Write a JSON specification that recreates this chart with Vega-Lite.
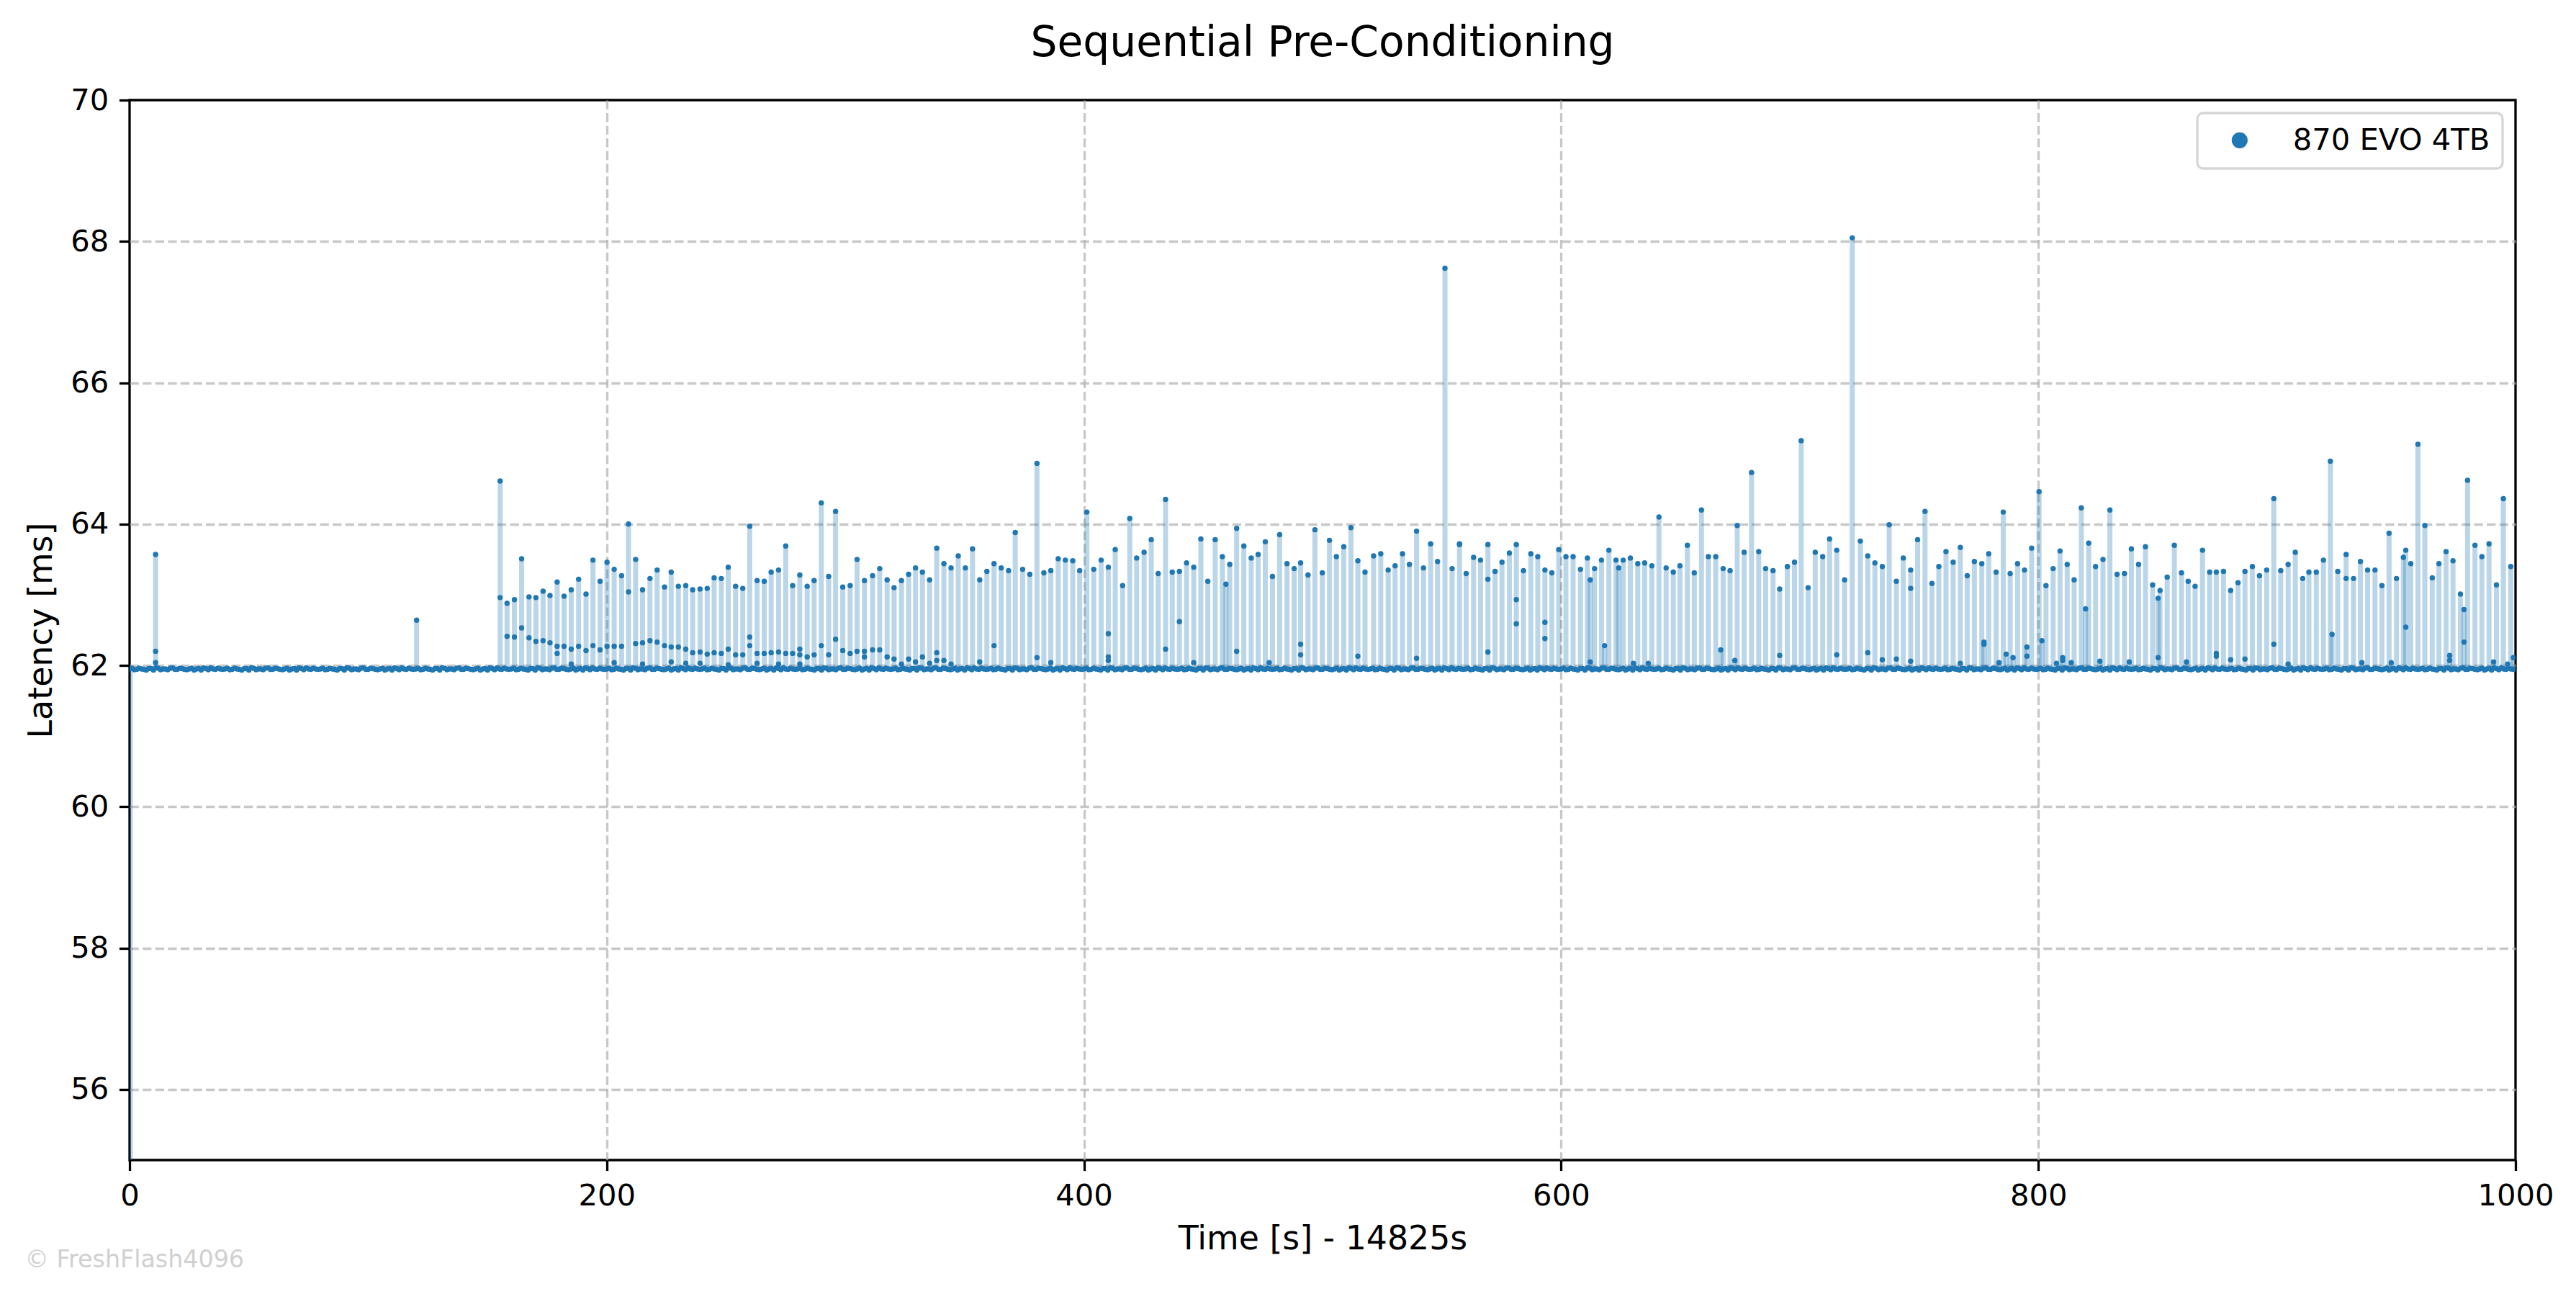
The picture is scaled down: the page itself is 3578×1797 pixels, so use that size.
{
  "$schema": "https://vega.github.io/schema/vega-lite/v6.json",
  "width": 3314,
  "height": 1472,
  "autosize": {"type": "none"},
  "padding": {"left": 180, "top": 139, "right": 84, "bottom": 186},
  "background": "white",
  "title": {"text": "Sequential Pre-Conditioning", "font": "DejaVu Sans", "fontSize": 58.3, "fontWeight": "normal", "color": "black", "anchor": "middle", "frame": "group", "baseline": "alphabetic", "offset": -17},
  "config": {
    "font": "DejaVu Sans",
    "view": {"stroke": "black", "strokeWidth": 3.3},
    "axis": {
      "domain": false,
      "gridColor": "#b0b0b0", "gridDash": [12.3, 5.3], "gridWidth": 3.3,
      "tickColor": "black", "tickWidth": 3.3, "tickSize": 14.6,
      "labelFont": "DejaVu Sans", "labelFontSize": 41.7, "labelColor": "black", "labelPadding": 14.6,
      "labelFlush": false, "labelOverlap": false,
      "titleFont": "DejaVu Sans", "titleFontSize": 45.8, "titleFontWeight": "normal", "titleColor": "black", "titlePadding": 16.7
    },
    "legend": {"strokeColor": "#d6d6d6", "strokeWidth": 3.3, "cornerRadius": 8, "fillColor": "white"}
  },
  "data": {"values": [
    {"t":0,"y":61.95},{"t":2,"y":61.94},{"t":4,"y":61.96},{"t":6,"y":61.945},{"t":8,"y":61.955},{"t":10,"y":61.935},{"t":12,"y":61.96},{"t":14,"y":61.95},{"t":16,"y":61.94},{"t":18,"y":61.965},
    {"t":20,"y":61.945},{"t":22,"y":61.955},{"t":24,"y":61.94},{"t":26,"y":61.96},{"t":28,"y":61.95},{"t":30,"y":61.935},{"t":32,"y":61.955},{"t":34,"y":61.965},{"t":36,"y":61.945},{"t":38,"y":61.95},
    {"t":40,"y":61.95},{"t":42,"y":61.94},{"t":44,"y":61.96},{"t":46,"y":61.945},{"t":48,"y":61.955},{"t":50,"y":61.935},{"t":52,"y":61.96},{"t":54,"y":61.95},{"t":56,"y":61.94},{"t":58,"y":61.965},
    {"t":60,"y":61.945},{"t":62,"y":61.955},{"t":64,"y":61.94},{"t":66,"y":61.96},{"t":68,"y":61.95},{"t":70,"y":61.935},{"t":72,"y":61.955},{"t":74,"y":61.965},{"t":76,"y":61.945},{"t":78,"y":61.95},
    {"t":80,"y":61.95},{"t":82,"y":61.94},{"t":84,"y":61.96},{"t":86,"y":61.945},{"t":88,"y":61.955},{"t":90,"y":61.935},{"t":92,"y":61.96},{"t":94,"y":61.95},{"t":96,"y":61.94},{"t":98,"y":61.965},
    {"t":100,"y":61.945},{"t":102,"y":61.955},{"t":104,"y":61.94},{"t":106,"y":61.96},{"t":108,"y":61.95},{"t":110,"y":61.935},{"t":112,"y":61.955},{"t":114,"y":61.965},{"t":116,"y":61.945},{"t":118,"y":61.95},
    {"t":120,"y":61.95},{"t":122,"y":61.94},{"t":124,"y":61.96},{"t":126,"y":61.945},{"t":128,"y":61.955},{"t":130,"y":61.935},{"t":132,"y":61.96},{"t":134,"y":61.95},{"t":136,"y":61.94},{"t":138,"y":61.965},
    {"t":140,"y":61.945},{"t":142,"y":61.955},{"t":144,"y":61.94},{"t":146,"y":61.96},{"t":148,"y":61.95},{"t":150,"y":61.935},{"t":152,"y":61.955},{"t":154,"y":61.965},{"t":156,"y":61.945},{"t":158,"y":61.95},
    {"t":160,"y":61.95},{"t":162,"y":61.94},{"t":164,"y":61.96},{"t":166,"y":61.945},{"t":168,"y":61.955},{"t":170,"y":61.935},{"t":172,"y":61.96},{"t":174,"y":61.95},{"t":176,"y":61.94},{"t":178,"y":61.965},
    {"t":180,"y":61.945},{"t":182,"y":61.955},{"t":184,"y":61.94},{"t":186,"y":61.96},{"t":188,"y":61.95},{"t":190,"y":61.935},{"t":192,"y":61.955},{"t":194,"y":61.965},{"t":196,"y":61.945},{"t":198,"y":61.95},
    {"t":200,"y":61.95},{"t":202,"y":61.94},{"t":204,"y":61.96},{"t":206,"y":61.945},{"t":208,"y":61.955},{"t":210,"y":61.935},{"t":212,"y":61.96},{"t":214,"y":61.95},{"t":216,"y":61.94},{"t":218,"y":61.965},
    {"t":220,"y":61.945},{"t":222,"y":61.955},{"t":224,"y":61.94},{"t":226,"y":61.96},{"t":228,"y":61.95},{"t":230,"y":61.935},{"t":232,"y":61.955},{"t":234,"y":61.965},{"t":236,"y":61.945},{"t":238,"y":61.95},
    {"t":240,"y":61.95},{"t":242,"y":61.94},{"t":244,"y":61.96},{"t":246,"y":61.945},{"t":248,"y":61.955},{"t":250,"y":61.935},{"t":252,"y":61.96},{"t":254,"y":61.95},{"t":256,"y":61.94},{"t":258,"y":61.965},
    {"t":260,"y":61.945},{"t":262,"y":61.955},{"t":264,"y":61.94},{"t":266,"y":61.96},{"t":268,"y":61.95},{"t":270,"y":61.935},{"t":272,"y":61.955},{"t":274,"y":61.965},{"t":276,"y":61.945},{"t":278,"y":61.95},
    {"t":280,"y":61.95},{"t":282,"y":61.94},{"t":284,"y":61.96},{"t":286,"y":61.945},{"t":288,"y":61.955},{"t":290,"y":61.935},{"t":292,"y":61.96},{"t":294,"y":61.95},{"t":296,"y":61.94},{"t":298,"y":61.965},
    {"t":300,"y":61.945},{"t":302,"y":61.955},{"t":304,"y":61.94},{"t":306,"y":61.96},{"t":308,"y":61.95},{"t":310,"y":61.935},{"t":312,"y":61.955},{"t":314,"y":61.965},{"t":316,"y":61.945},{"t":318,"y":61.95},
    {"t":320,"y":61.95},{"t":322,"y":61.94},{"t":324,"y":61.96},{"t":326,"y":61.945},{"t":328,"y":61.955},{"t":330,"y":61.935},{"t":332,"y":61.96},{"t":334,"y":61.95},{"t":336,"y":61.94},{"t":338,"y":61.965},
    {"t":340,"y":61.945},{"t":342,"y":61.955},{"t":344,"y":61.94},{"t":346,"y":61.96},{"t":348,"y":61.95},{"t":350,"y":61.935},{"t":352,"y":61.955},{"t":354,"y":61.965},{"t":356,"y":61.945},{"t":358,"y":61.95},
    {"t":360,"y":61.95},{"t":362,"y":61.94},{"t":364,"y":61.96},{"t":366,"y":61.945},{"t":368,"y":61.955},{"t":370,"y":61.935},{"t":372,"y":61.96},{"t":374,"y":61.95},{"t":376,"y":61.94},{"t":378,"y":61.965},
    {"t":380,"y":61.945},{"t":382,"y":61.955},{"t":384,"y":61.94},{"t":386,"y":61.96},{"t":388,"y":61.95},{"t":390,"y":61.935},{"t":392,"y":61.955},{"t":394,"y":61.965},{"t":396,"y":61.945},{"t":398,"y":61.95},
    {"t":400,"y":61.95},{"t":402,"y":61.94},{"t":404,"y":61.96},{"t":406,"y":61.945},{"t":408,"y":61.955},{"t":410,"y":61.935},{"t":412,"y":61.96},{"t":414,"y":61.95},{"t":416,"y":61.94},{"t":418,"y":61.965},
    {"t":420,"y":61.945},{"t":422,"y":61.955},{"t":424,"y":61.94},{"t":426,"y":61.96},{"t":428,"y":61.95},{"t":430,"y":61.935},{"t":432,"y":61.955},{"t":434,"y":61.965},{"t":436,"y":61.945},{"t":438,"y":61.95},
    {"t":440,"y":61.95},{"t":442,"y":61.94},{"t":444,"y":61.96},{"t":446,"y":61.945},{"t":448,"y":61.955},{"t":450,"y":61.935},{"t":452,"y":61.96},{"t":454,"y":61.95},{"t":456,"y":61.94},{"t":458,"y":61.965},
    {"t":460,"y":61.945},{"t":462,"y":61.955},{"t":464,"y":61.94},{"t":466,"y":61.96},{"t":468,"y":61.95},{"t":470,"y":61.935},{"t":472,"y":61.955},{"t":474,"y":61.965},{"t":476,"y":61.945},{"t":478,"y":61.95},
    {"t":480,"y":61.95},{"t":482,"y":61.94},{"t":484,"y":61.96},{"t":486,"y":61.945},{"t":488,"y":61.955},{"t":490,"y":61.935},{"t":492,"y":61.96},{"t":494,"y":61.95},{"t":496,"y":61.94},{"t":498,"y":61.965},
    {"t":500,"y":61.945},{"t":502,"y":61.955},{"t":504,"y":61.94},{"t":506,"y":61.96},{"t":508,"y":61.95},{"t":510,"y":61.935},{"t":512,"y":61.955},{"t":514,"y":61.965},{"t":516,"y":61.945},{"t":518,"y":61.95},
    {"t":520,"y":61.95},{"t":522,"y":61.94},{"t":524,"y":61.96},{"t":526,"y":61.945},{"t":528,"y":61.955},{"t":530,"y":61.935},{"t":532,"y":61.96},{"t":534,"y":61.95},{"t":536,"y":61.94},{"t":538,"y":61.965},
    {"t":540,"y":61.945},{"t":542,"y":61.955},{"t":544,"y":61.94},{"t":546,"y":61.96},{"t":548,"y":61.95},{"t":550,"y":61.935},{"t":552,"y":61.955},{"t":554,"y":61.965},{"t":556,"y":61.945},{"t":558,"y":61.95},
    {"t":560,"y":61.95},{"t":562,"y":61.94},{"t":564,"y":61.96},{"t":566,"y":61.945},{"t":568,"y":61.955},{"t":570,"y":61.935},{"t":572,"y":61.96},{"t":574,"y":61.95},{"t":576,"y":61.94},{"t":578,"y":61.965},
    {"t":580,"y":61.945},{"t":582,"y":61.955},{"t":584,"y":61.94},{"t":586,"y":61.96},{"t":588,"y":61.95},{"t":590,"y":61.935},{"t":592,"y":61.955},{"t":594,"y":61.965},{"t":596,"y":61.945},{"t":598,"y":61.95},
    {"t":600,"y":61.95},{"t":602,"y":61.94},{"t":604,"y":61.96},{"t":606,"y":61.945},{"t":608,"y":61.955},{"t":610,"y":61.935},{"t":612,"y":61.96},{"t":614,"y":61.95},{"t":616,"y":61.94},{"t":618,"y":61.965},
    {"t":620,"y":61.945},{"t":622,"y":61.955},{"t":624,"y":61.94},{"t":626,"y":61.96},{"t":628,"y":61.95},{"t":630,"y":61.935},{"t":632,"y":61.955},{"t":634,"y":61.965},{"t":636,"y":61.945},{"t":638,"y":61.95},
    {"t":640,"y":61.95},{"t":642,"y":61.94},{"t":644,"y":61.96},{"t":646,"y":61.945},{"t":648,"y":61.955},{"t":650,"y":61.935},{"t":652,"y":61.96},{"t":654,"y":61.95},{"t":656,"y":61.94},{"t":658,"y":61.965},
    {"t":660,"y":61.945},{"t":662,"y":61.955},{"t":664,"y":61.94},{"t":666,"y":61.96},{"t":668,"y":61.95},{"t":670,"y":61.935},{"t":672,"y":61.955},{"t":674,"y":61.965},{"t":676,"y":61.945},{"t":678,"y":61.95},
    {"t":680,"y":61.95},{"t":682,"y":61.94},{"t":684,"y":61.96},{"t":686,"y":61.945},{"t":688,"y":61.955},{"t":690,"y":61.935},{"t":692,"y":61.96},{"t":694,"y":61.95},{"t":696,"y":61.94},{"t":698,"y":61.965},
    {"t":700,"y":61.945},{"t":702,"y":61.955},{"t":704,"y":61.94},{"t":706,"y":61.96},{"t":708,"y":61.95},{"t":710,"y":61.935},{"t":712,"y":61.955},{"t":714,"y":61.965},{"t":716,"y":61.945},{"t":718,"y":61.95},
    {"t":720,"y":61.95},{"t":722,"y":61.94},{"t":724,"y":61.96},{"t":726,"y":61.945},{"t":728,"y":61.955},{"t":730,"y":61.935},{"t":732,"y":61.96},{"t":734,"y":61.95},{"t":736,"y":61.94},{"t":738,"y":61.965},
    {"t":740,"y":61.945},{"t":742,"y":61.955},{"t":744,"y":61.94},{"t":746,"y":61.96},{"t":748,"y":61.95},{"t":750,"y":61.935},{"t":752,"y":61.955},{"t":754,"y":61.965},{"t":756,"y":61.945},{"t":758,"y":61.95},
    {"t":760,"y":61.95},{"t":762,"y":61.94},{"t":764,"y":61.96},{"t":766,"y":61.945},{"t":768,"y":61.955},{"t":770,"y":61.935},{"t":772,"y":61.96},{"t":774,"y":61.95},{"t":776,"y":61.94},{"t":778,"y":61.965},
    {"t":780,"y":61.945},{"t":782,"y":61.955},{"t":784,"y":61.94},{"t":786,"y":61.96},{"t":788,"y":61.95},{"t":790,"y":61.935},{"t":792,"y":61.955},{"t":794,"y":61.965},{"t":796,"y":61.945},{"t":798,"y":61.95},
    {"t":800,"y":61.95},{"t":802,"y":61.94},{"t":804,"y":61.96},{"t":806,"y":61.945},{"t":808,"y":61.955},{"t":810,"y":61.935},{"t":812,"y":61.96},{"t":814,"y":61.95},{"t":816,"y":61.94},{"t":818,"y":61.965},
    {"t":820,"y":61.945},{"t":822,"y":61.955},{"t":824,"y":61.94},{"t":826,"y":61.96},{"t":828,"y":61.95},{"t":830,"y":61.935},{"t":832,"y":61.955},{"t":834,"y":61.965},{"t":836,"y":61.945},{"t":838,"y":61.95},
    {"t":840,"y":61.95},{"t":842,"y":61.94},{"t":844,"y":61.96},{"t":846,"y":61.945},{"t":848,"y":61.955},{"t":850,"y":61.935},{"t":852,"y":61.96},{"t":854,"y":61.95},{"t":856,"y":61.94},{"t":858,"y":61.965},
    {"t":860,"y":61.945},{"t":862,"y":61.955},{"t":864,"y":61.94},{"t":866,"y":61.96},{"t":868,"y":61.95},{"t":870,"y":61.935},{"t":872,"y":61.955},{"t":874,"y":61.965},{"t":876,"y":61.945},{"t":878,"y":61.95},
    {"t":880,"y":61.95},{"t":882,"y":61.94},{"t":884,"y":61.96},{"t":886,"y":61.945},{"t":888,"y":61.955},{"t":890,"y":61.935},{"t":892,"y":61.96},{"t":894,"y":61.95},{"t":896,"y":61.94},{"t":898,"y":61.965},
    {"t":900,"y":61.945},{"t":902,"y":61.955},{"t":904,"y":61.94},{"t":906,"y":61.96},{"t":908,"y":61.95},{"t":910,"y":61.935},{"t":912,"y":61.955},{"t":914,"y":61.965},{"t":916,"y":61.945},{"t":918,"y":61.95},
    {"t":920,"y":61.95},{"t":922,"y":61.94},{"t":924,"y":61.96},{"t":926,"y":61.945},{"t":928,"y":61.955},{"t":930,"y":61.935},{"t":932,"y":61.96},{"t":934,"y":61.95},{"t":936,"y":61.94},{"t":938,"y":61.965},
    {"t":940,"y":61.945},{"t":942,"y":61.955},{"t":944,"y":61.94},{"t":946,"y":61.96},{"t":948,"y":61.95},{"t":950,"y":61.935},{"t":952,"y":61.955},{"t":954,"y":61.965},{"t":956,"y":61.945},{"t":958,"y":61.95},
    {"t":960,"y":61.95},{"t":962,"y":61.94},{"t":964,"y":61.96},{"t":966,"y":61.945},{"t":968,"y":61.955},{"t":970,"y":61.935},{"t":972,"y":61.96},{"t":974,"y":61.95},{"t":976,"y":61.94},{"t":978,"y":61.965},
    {"t":980,"y":61.945},{"t":982,"y":61.955},{"t":984,"y":61.94},{"t":986,"y":61.96},{"t":988,"y":61.95},{"t":990,"y":61.935},{"t":992,"y":61.955},{"t":994,"y":61.965},{"t":996,"y":61.945},{"t":998,"y":61.95},
    {"t":1000,"y":61.95},
    {"t":1,"y":61.96},{"t":3,"y":61.945},{"t":5,"y":61.95},{"t":7,"y":61.935},{"t":9,"y":61.955},{"t":11,"y":61.965},{"t":13,"y":61.94},{"t":15,"y":61.95},{"t":17,"y":61.96},{"t":19,"y":61.945},
    {"t":21,"y":61.96},{"t":23,"y":61.945},{"t":25,"y":61.95},{"t":27,"y":61.935},{"t":29,"y":61.955},{"t":31,"y":61.965},{"t":33,"y":61.94},{"t":35,"y":61.95},{"t":37,"y":61.96},{"t":39,"y":61.945},
    {"t":41,"y":61.96},{"t":43,"y":61.945},{"t":45,"y":61.95},{"t":47,"y":61.935},{"t":49,"y":61.955},{"t":51,"y":61.965},{"t":53,"y":61.94},{"t":55,"y":61.95},{"t":57,"y":61.96},{"t":59,"y":61.945},
    {"t":61,"y":61.96},{"t":63,"y":61.945},{"t":65,"y":61.95},{"t":67,"y":61.935},{"t":69,"y":61.955},{"t":71,"y":61.965},{"t":73,"y":61.94},{"t":75,"y":61.95},{"t":77,"y":61.96},{"t":79,"y":61.945},
    {"t":81,"y":61.96},{"t":83,"y":61.945},{"t":85,"y":61.95},{"t":87,"y":61.935},{"t":89,"y":61.955},{"t":91,"y":61.965},{"t":93,"y":61.94},{"t":95,"y":61.95},{"t":97,"y":61.96},{"t":99,"y":61.945},
    {"t":101,"y":61.96},{"t":103,"y":61.945},{"t":105,"y":61.95},{"t":107,"y":61.935},{"t":109,"y":61.955},{"t":111,"y":61.965},{"t":113,"y":61.94},{"t":115,"y":61.95},{"t":117,"y":61.96},{"t":119,"y":61.945},
    {"t":121,"y":61.96},{"t":123,"y":61.945},{"t":125,"y":61.95},{"t":127,"y":61.935},{"t":129,"y":61.955},{"t":131,"y":61.965},{"t":133,"y":61.94},{"t":135,"y":61.95},{"t":137,"y":61.96},{"t":139,"y":61.945},
    {"t":141,"y":61.96},{"t":143,"y":61.945},{"t":145,"y":61.95},{"t":147,"y":61.935},{"t":149,"y":61.955},{"t":151,"y":61.965},{"t":153,"y":61.94},{"t":155,"y":61.95},{"t":157,"y":61.96},{"t":159,"y":61.945},
    {"t":161,"y":61.96},{"t":163,"y":61.945},{"t":165,"y":61.95},{"t":167,"y":61.935},{"t":169,"y":61.955},{"t":171,"y":61.965},{"t":173,"y":61.94},{"t":175,"y":61.95},{"t":177,"y":61.96},{"t":179,"y":61.945},
    {"t":181,"y":61.96},{"t":183,"y":61.945},{"t":185,"y":61.95},{"t":187,"y":61.935},{"t":189,"y":61.955},{"t":191,"y":61.965},{"t":193,"y":61.94},{"t":195,"y":61.95},{"t":197,"y":61.96},{"t":199,"y":61.945},
    {"t":201,"y":61.96},{"t":203,"y":61.945},{"t":205,"y":61.95},{"t":207,"y":61.935},{"t":209,"y":61.955},{"t":211,"y":61.965},{"t":213,"y":61.94},{"t":215,"y":61.95},{"t":217,"y":61.96},{"t":219,"y":61.945},
    {"t":221,"y":61.96},{"t":223,"y":61.945},{"t":225,"y":61.95},{"t":227,"y":61.935},{"t":229,"y":61.955},{"t":231,"y":61.965},{"t":233,"y":61.94},{"t":235,"y":61.95},{"t":237,"y":61.96},{"t":239,"y":61.945},
    {"t":241,"y":61.96},{"t":243,"y":61.945},{"t":245,"y":61.95},{"t":247,"y":61.935},{"t":249,"y":61.955},{"t":251,"y":61.965},{"t":253,"y":61.94},{"t":255,"y":61.95},{"t":257,"y":61.96},{"t":259,"y":61.945},
    {"t":261,"y":61.96},{"t":263,"y":61.945},{"t":265,"y":61.95},{"t":267,"y":61.935},{"t":269,"y":61.955},{"t":271,"y":61.965},{"t":273,"y":61.94},{"t":275,"y":61.95},{"t":277,"y":61.96},{"t":279,"y":61.945},
    {"t":281,"y":61.96},{"t":283,"y":61.945},{"t":285,"y":61.95},{"t":287,"y":61.935},{"t":289,"y":61.955},{"t":291,"y":61.965},{"t":293,"y":61.94},{"t":295,"y":61.95},{"t":297,"y":61.96},{"t":299,"y":61.945},
    {"t":301,"y":61.96},{"t":303,"y":61.945},{"t":305,"y":61.95},{"t":307,"y":61.935},{"t":309,"y":61.955},{"t":311,"y":61.965},{"t":313,"y":61.94},{"t":315,"y":61.95},{"t":317,"y":61.96},{"t":319,"y":61.945},
    {"t":321,"y":61.96},{"t":323,"y":61.945},{"t":325,"y":61.95},{"t":327,"y":61.935},{"t":329,"y":61.955},{"t":331,"y":61.965},{"t":333,"y":61.94},{"t":335,"y":61.95},{"t":337,"y":61.96},{"t":339,"y":61.945},
    {"t":341,"y":61.96},{"t":343,"y":61.945},{"t":345,"y":61.95},{"t":347,"y":61.935},{"t":349,"y":61.955},{"t":351,"y":61.965},{"t":353,"y":61.94},{"t":355,"y":61.95},{"t":357,"y":61.96},{"t":359,"y":61.945},
    {"t":361,"y":61.96},{"t":363,"y":61.945},{"t":365,"y":61.95},{"t":367,"y":61.935},{"t":369,"y":61.955},{"t":371,"y":61.965},{"t":373,"y":61.94},{"t":375,"y":61.95},{"t":377,"y":61.96},{"t":379,"y":61.945},
    {"t":381,"y":61.96},{"t":383,"y":61.945},{"t":385,"y":61.95},{"t":387,"y":61.935},{"t":389,"y":61.955},{"t":391,"y":61.965},{"t":393,"y":61.94},{"t":395,"y":61.95},{"t":397,"y":61.96},{"t":399,"y":61.945},
    {"t":401,"y":61.96},{"t":403,"y":61.945},{"t":405,"y":61.95},{"t":407,"y":61.935},{"t":409,"y":61.955},{"t":411,"y":61.965},{"t":413,"y":61.94},{"t":415,"y":61.95},{"t":417,"y":61.96},{"t":419,"y":61.945},
    {"t":421,"y":61.96},{"t":423,"y":61.945},{"t":425,"y":61.95},{"t":427,"y":61.935},{"t":429,"y":61.955},{"t":431,"y":61.965},{"t":433,"y":61.94},{"t":435,"y":61.95},{"t":437,"y":61.96},{"t":439,"y":61.945},
    {"t":441,"y":61.96},{"t":443,"y":61.945},{"t":445,"y":61.95},{"t":447,"y":61.935},{"t":449,"y":61.955},{"t":451,"y":61.965},{"t":453,"y":61.94},{"t":455,"y":61.95},{"t":457,"y":61.96},{"t":459,"y":61.945},
    {"t":461,"y":61.96},{"t":463,"y":61.945},{"t":465,"y":61.95},{"t":467,"y":61.935},{"t":469,"y":61.955},{"t":471,"y":61.965},{"t":473,"y":61.94},{"t":475,"y":61.95},{"t":477,"y":61.96},{"t":479,"y":61.945},
    {"t":481,"y":61.96},{"t":483,"y":61.945},{"t":485,"y":61.95},{"t":487,"y":61.935},{"t":489,"y":61.955},{"t":491,"y":61.965},{"t":493,"y":61.94},{"t":495,"y":61.95},{"t":497,"y":61.96},{"t":499,"y":61.945},
    {"t":501,"y":61.96},{"t":503,"y":61.945},{"t":505,"y":61.95},{"t":507,"y":61.935},{"t":509,"y":61.955},{"t":511,"y":61.965},{"t":513,"y":61.94},{"t":515,"y":61.95},{"t":517,"y":61.96},{"t":519,"y":61.945},
    {"t":521,"y":61.96},{"t":523,"y":61.945},{"t":525,"y":61.95},{"t":527,"y":61.935},{"t":529,"y":61.955},{"t":531,"y":61.965},{"t":533,"y":61.94},{"t":535,"y":61.95},{"t":537,"y":61.96},{"t":539,"y":61.945},
    {"t":541,"y":61.96},{"t":543,"y":61.945},{"t":545,"y":61.95},{"t":547,"y":61.935},{"t":549,"y":61.955},{"t":551,"y":61.965},{"t":553,"y":61.94},{"t":555,"y":61.95},{"t":557,"y":61.96},{"t":559,"y":61.945},
    {"t":561,"y":61.96},{"t":563,"y":61.945},{"t":565,"y":61.95},{"t":567,"y":61.935},{"t":569,"y":61.955},{"t":571,"y":61.965},{"t":573,"y":61.94},{"t":575,"y":61.95},{"t":577,"y":61.96},{"t":579,"y":61.945},
    {"t":581,"y":61.96},{"t":583,"y":61.945},{"t":585,"y":61.95},{"t":587,"y":61.935},{"t":589,"y":61.955},{"t":591,"y":61.965},{"t":593,"y":61.94},{"t":595,"y":61.95},{"t":597,"y":61.96},{"t":599,"y":61.945},
    {"t":601,"y":61.96},{"t":603,"y":61.945},{"t":605,"y":61.95},{"t":607,"y":61.935},{"t":609,"y":61.955},{"t":611,"y":61.965},{"t":613,"y":61.94},{"t":615,"y":61.95},{"t":617,"y":61.96},{"t":619,"y":61.945},
    {"t":621,"y":61.96},{"t":623,"y":61.945},{"t":625,"y":61.95},{"t":627,"y":61.935},{"t":629,"y":61.955},{"t":631,"y":61.965},{"t":633,"y":61.94},{"t":635,"y":61.95},{"t":637,"y":61.96},{"t":639,"y":61.945},
    {"t":641,"y":61.96},{"t":643,"y":61.945},{"t":645,"y":61.95},{"t":647,"y":61.935},{"t":649,"y":61.955},{"t":651,"y":61.965},{"t":653,"y":61.94},{"t":655,"y":61.95},{"t":657,"y":61.96},{"t":659,"y":61.945},
    {"t":661,"y":61.96},{"t":663,"y":61.945},{"t":665,"y":61.95},{"t":667,"y":61.935},{"t":669,"y":61.955},{"t":671,"y":61.965},{"t":673,"y":61.94},{"t":675,"y":61.95},{"t":677,"y":61.96},{"t":679,"y":61.945},
    {"t":681,"y":61.96},{"t":683,"y":61.945},{"t":685,"y":61.95},{"t":687,"y":61.935},{"t":689,"y":61.955},{"t":691,"y":61.965},{"t":693,"y":61.94},{"t":695,"y":61.95},{"t":697,"y":61.96},{"t":699,"y":61.945},
    {"t":701,"y":61.96},{"t":703,"y":61.945},{"t":705,"y":61.95},{"t":707,"y":61.935},{"t":709,"y":61.955},{"t":711,"y":61.965},{"t":713,"y":61.94},{"t":715,"y":61.95},{"t":717,"y":61.96},{"t":719,"y":61.945},
    {"t":721,"y":61.96},{"t":723,"y":61.945},{"t":725,"y":61.95},{"t":727,"y":61.935},{"t":729,"y":61.955},{"t":731,"y":61.965},{"t":733,"y":61.94},{"t":735,"y":61.95},{"t":737,"y":61.96},{"t":739,"y":61.945},
    {"t":741,"y":61.96},{"t":743,"y":61.945},{"t":745,"y":61.95},{"t":747,"y":61.935},{"t":749,"y":61.955},{"t":751,"y":61.965},{"t":753,"y":61.94},{"t":755,"y":61.95},{"t":757,"y":61.96},{"t":759,"y":61.945},
    {"t":761,"y":61.96},{"t":763,"y":61.945},{"t":765,"y":61.95},{"t":767,"y":61.935},{"t":769,"y":61.955},{"t":771,"y":61.965},{"t":773,"y":61.94},{"t":775,"y":61.95},{"t":777,"y":61.96},{"t":779,"y":61.945},
    {"t":781,"y":61.96},{"t":783,"y":61.945},{"t":785,"y":61.95},{"t":787,"y":61.935},{"t":789,"y":61.955},{"t":791,"y":61.965},{"t":793,"y":61.94},{"t":795,"y":61.95},{"t":797,"y":61.96},{"t":799,"y":61.945},
    {"t":801,"y":61.96},{"t":803,"y":61.945},{"t":805,"y":61.95},{"t":807,"y":61.935},{"t":809,"y":61.955},{"t":811,"y":61.965},{"t":813,"y":61.94},{"t":815,"y":61.95},{"t":817,"y":61.96},{"t":819,"y":61.945},
    {"t":821,"y":61.96},{"t":823,"y":61.945},{"t":825,"y":61.95},{"t":827,"y":61.935},{"t":829,"y":61.955},{"t":831,"y":61.965},{"t":833,"y":61.94},{"t":835,"y":61.95},{"t":837,"y":61.96},{"t":839,"y":61.945},
    {"t":841,"y":61.96},{"t":843,"y":61.945},{"t":845,"y":61.95},{"t":847,"y":61.935},{"t":849,"y":61.955},{"t":851,"y":61.965},{"t":853,"y":61.94},{"t":855,"y":61.95},{"t":857,"y":61.96},{"t":859,"y":61.945},
    {"t":861,"y":61.96},{"t":863,"y":61.945},{"t":865,"y":61.95},{"t":867,"y":61.935},{"t":869,"y":61.955},{"t":871,"y":61.965},{"t":873,"y":61.94},{"t":875,"y":61.95},{"t":877,"y":61.96},{"t":879,"y":61.945},
    {"t":881,"y":61.96},{"t":883,"y":61.945},{"t":885,"y":61.95},{"t":887,"y":61.935},{"t":889,"y":61.955},{"t":891,"y":61.965},{"t":893,"y":61.94},{"t":895,"y":61.95},{"t":897,"y":61.96},{"t":899,"y":61.945},
    {"t":901,"y":61.96},{"t":903,"y":61.945},{"t":905,"y":61.95},{"t":907,"y":61.935},{"t":909,"y":61.955},{"t":911,"y":61.965},{"t":913,"y":61.94},{"t":915,"y":61.95},{"t":917,"y":61.96},{"t":919,"y":61.945},
    {"t":921,"y":61.96},{"t":923,"y":61.945},{"t":925,"y":61.95},{"t":927,"y":61.935},{"t":929,"y":61.955},{"t":931,"y":61.965},{"t":933,"y":61.94},{"t":935,"y":61.95},{"t":937,"y":61.96},{"t":939,"y":61.945},
    {"t":941,"y":61.96},{"t":943,"y":61.945},{"t":945,"y":61.95},{"t":947,"y":61.935},{"t":949,"y":61.955},{"t":951,"y":61.965},{"t":953,"y":61.94},{"t":955,"y":61.95},{"t":957,"y":61.96},{"t":959,"y":61.945},
    {"t":961,"y":61.96},{"t":963,"y":61.945},{"t":965,"y":61.95},{"t":967,"y":61.935},{"t":969,"y":61.955},{"t":971,"y":61.965},{"t":973,"y":61.94},{"t":975,"y":61.95},{"t":977,"y":61.96},{"t":979,"y":61.945},
    {"t":981,"y":61.96},{"t":983,"y":61.945},{"t":985,"y":61.95},{"t":987,"y":61.935},{"t":989,"y":61.955},{"t":991,"y":61.965},{"t":993,"y":61.94},{"t":995,"y":61.95},{"t":997,"y":61.96},{"t":999,"y":61.945},
    {"t":0.3,"y":54},
    {"t":10.9,"y":63.57},{"t":10.9,"y":62.2},{"t":10.9,"y":62.04},
    {"t":120.3,"y":62.64},
    {"t":155.3,"y":64.61},{"t":155.3,"y":62.96},
    {"t":158.2,"y":62.88},{"t":158.2,"y":62.41},
    {"t":161.3,"y":62.93},{"t":161.3,"y":62.4},
    {"t":164.3,"y":63.51},{"t":164.3,"y":62.53},
    {"t":167.4,"y":62.97},{"t":167.4,"y":62.39},
    {"t":170.3,"y":62.96},{"t":170.3,"y":62.34},
    {"t":173.3,"y":63.05},{"t":173.3,"y":62.35},
    {"t":176.2,"y":62.99},{"t":176.2,"y":62.32},
    {"t":179.2,"y":63.18},{"t":179.2,"y":62.27},{"t":179.2,"y":62.17},
    {"t":182.1,"y":62.98},{"t":182.1,"y":62.27},
    {"t":185.1,"y":63.07},{"t":185.1,"y":62.23},{"t":185.1,"y":62.02},
    {"t":188.2,"y":63.22},{"t":188.2,"y":62.27},
    {"t":191.3,"y":63.01},{"t":191.3,"y":62.21},
    {"t":194.2,"y":63.49},{"t":194.2,"y":62.28},
    {"t":197.2,"y":63.19},{"t":197.2,"y":62.22},
    {"t":200.1,"y":63.46},{"t":200.1,"y":62.27},
    {"t":203.1,"y":63.36},{"t":203.1,"y":62.27},{"t":203.1,"y":62.04},
    {"t":206.2,"y":63.27},{"t":206.2,"y":62.27},
    {"t":209.1,"y":64.0},{"t":209.1,"y":63.04},
    {"t":212.1,"y":63.5},{"t":212.1,"y":62.31},
    {"t":215.0,"y":63.07},{"t":215.0,"y":62.32},{"t":215.0,"y":62.02},
    {"t":218.1,"y":63.23},{"t":218.1,"y":62.35},
    {"t":221.1,"y":63.35},{"t":221.1,"y":62.33},
    {"t":224.2,"y":63.11},{"t":224.2,"y":62.28},
    {"t":227.0,"y":63.32},{"t":227.0,"y":62.26},{"t":227.0,"y":62.05},
    {"t":230.0,"y":63.12},{"t":230.0,"y":62.26},
    {"t":233.1,"y":63.13},{"t":233.1,"y":62.23},{"t":233.1,"y":62.03},
    {"t":236.0,"y":63.07},{"t":236.0,"y":62.18},
    {"t":239.1,"y":63.08},{"t":239.1,"y":62.19},{"t":239.1,"y":62.03},
    {"t":242.1,"y":63.09},{"t":242.1,"y":62.16},
    {"t":245.0,"y":63.24},{"t":245.0,"y":62.18},
    {"t":248.0,"y":63.23},{"t":248.0,"y":62.17},
    {"t":250.9,"y":63.39},{"t":250.9,"y":62.23},{"t":250.9,"y":62.01},
    {"t":254.0,"y":63.12},{"t":254.0,"y":62.15},
    {"t":257.0,"y":63.09},{"t":257.0,"y":62.15},
    {"t":259.9,"y":63.97},{"t":259.9,"y":62.4},{"t":259.9,"y":62.28},
    {"t":263.0,"y":63.2},{"t":263.0,"y":62.17},{"t":263.0,"y":62.03},
    {"t":266.0,"y":63.19},{"t":266.0,"y":62.17},
    {"t":268.9,"y":63.32},{"t":268.9,"y":62.18},
    {"t":272.0,"y":63.35},{"t":272.0,"y":62.19},{"t":272.0,"y":62.02},
    {"t":275.0,"y":63.69},{"t":275.0,"y":62.17},
    {"t":277.9,"y":63.13},{"t":277.9,"y":62.17},
    {"t":280.9,"y":63.28},{"t":280.9,"y":62.23},{"t":280.9,"y":62.15},{"t":280.9,"y":62.02},
    {"t":284.0,"y":63.12},{"t":284.0,"y":62.12},
    {"t":286.9,"y":63.2},{"t":286.9,"y":62.15},
    {"t":289.9,"y":64.3},{"t":289.9,"y":62.28},
    {"t":293.0,"y":63.26},{"t":293.0,"y":62.15},
    {"t":295.9,"y":64.18},{"t":295.9,"y":62.37},
    {"t":298.9,"y":63.11},{"t":298.9,"y":62.21},
    {"t":302.0,"y":63.13},{"t":302.0,"y":62.17},
    {"t":304.9,"y":63.5},{"t":304.9,"y":62.2},
    {"t":308.0,"y":63.2},{"t":308.0,"y":62.2},{"t":308.0,"y":62.12},
    {"t":311.4,"y":63.27},{"t":311.4,"y":62.22},
    {"t":314.4,"y":63.37},{"t":314.4,"y":62.22},
    {"t":317.5,"y":63.21},{"t":317.5,"y":62.12},
    {"t":320.4,"y":63.1},{"t":320.4,"y":62.09},
    {"t":323.5,"y":63.2},{"t":323.5,"y":62.02},
    {"t":326.5,"y":63.29},{"t":326.5,"y":62.09},
    {"t":329.4,"y":63.38},{"t":329.4,"y":62.05},
    {"t":332.3,"y":63.32},{"t":332.3,"y":62.12},
    {"t":335.3,"y":63.21},{"t":335.3,"y":62.03},
    {"t":338.3,"y":63.66},{"t":338.3,"y":62.18},{"t":338.3,"y":62.07},
    {"t":341.3,"y":63.44},{"t":341.3,"y":62.07},
    {"t":344.3,"y":63.38},{"t":344.3,"y":62.02},
    {"t":347.3,"y":63.55},
    {"t":350.3,"y":63.38},
    {"t":353.3,"y":63.65},
    {"t":356.3,"y":63.21},{"t":356.3,"y":62.05},
    {"t":359.3,"y":63.33},
    {"t":362.3,"y":63.44},{"t":362.3,"y":62.28},
    {"t":365.3,"y":63.38},
    {"t":368.4,"y":63.34},
    {"t":371.2,"y":63.88},
    {"t":374.3,"y":63.36},
    {"t":377.3,"y":63.29},
    {"t":380.3,"y":64.86},{"t":380.3,"y":62.11},
    {"t":383.2,"y":63.31},
    {"t":386.1,"y":63.34},{"t":386.1,"y":62.04},
    {"t":389.2,"y":63.51},
    {"t":392.2,"y":63.49},
    {"t":395.3,"y":63.48},
    {"t":398.2,"y":63.34},
    {"t":401.2,"y":64.17},
    {"t":404.1,"y":63.36},
    {"t":407.2,"y":63.49},
    {"t":410.2,"y":63.39},{"t":410.2,"y":62.45},{"t":410.2,"y":62.12},{"t":410.2,"y":62.07},
    {"t":413.1,"y":63.64},
    {"t":416.2,"y":63.13},
    {"t":419.2,"y":64.08},
    {"t":422.1,"y":63.52},
    {"t":425.2,"y":63.6},
    {"t":428.2,"y":63.78},
    {"t":431.1,"y":63.3},
    {"t":434.2,"y":64.35},{"t":434.2,"y":62.23},
    {"t":437.0,"y":63.32},
    {"t":440.0,"y":63.33},{"t":440.0,"y":62.62},
    {"t":443.0,"y":63.45},
    {"t":446.0,"y":63.39},{"t":446.0,"y":62.04},
    {"t":449.0,"y":63.79},
    {"t":451.9,"y":63.19},
    {"t":455.0,"y":63.78},
    {"t":458.0,"y":63.54},
    {"t":459.5,"y":63.15},
    {"t":461.1,"y":63.43},
    {"t":464.0,"y":63.94},{"t":464.0,"y":62.2},
    {"t":467.0,"y":63.69},
    {"t":470.1,"y":63.52},
    {"t":473.0,"y":63.57},
    {"t":476.0,"y":63.75},
    {"t":477.6,"y":62.04},
    {"t":479.0,"y":63.26},
    {"t":482.0,"y":63.85},
    {"t":485.1,"y":63.44},
    {"t":488.1,"y":63.37},
    {"t":490.8,"y":63.45},{"t":490.8,"y":62.3},{"t":490.8,"y":62.15},
    {"t":493.9,"y":63.28},
    {"t":496.8,"y":63.92},
    {"t":499.9,"y":63.31},
    {"t":502.9,"y":63.77},
    {"t":505.8,"y":63.54},
    {"t":508.9,"y":63.68},
    {"t":511.9,"y":63.95},
    {"t":514.8,"y":63.48},{"t":514.8,"y":62.13},
    {"t":517.8,"y":63.32},
    {"t":521.4,"y":63.55},
    {"t":524.4,"y":63.58},
    {"t":527.5,"y":63.35},
    {"t":530.4,"y":63.41},
    {"t":533.5,"y":63.58},
    {"t":536.4,"y":63.43},
    {"t":539.4,"y":63.9},{"t":539.4,"y":62.1},
    {"t":542.3,"y":63.38},
    {"t":545.3,"y":63.72},
    {"t":548.2,"y":63.47},
    {"t":551.3,"y":67.62},
    {"t":554.3,"y":63.37},
    {"t":557.4,"y":63.72},{"t":557.4,"y":63.71},
    {"t":560.2,"y":63.3},
    {"t":563.3,"y":63.53},
    {"t":566.2,"y":63.49},
    {"t":569.3,"y":63.71},{"t":569.3,"y":63.22},{"t":569.3,"y":62.19},
    {"t":572.3,"y":63.33},
    {"t":575.2,"y":63.46},
    {"t":578.3,"y":63.59},
    {"t":581.2,"y":63.71},{"t":581.2,"y":62.93},{"t":581.2,"y":62.59},
    {"t":584.2,"y":63.34},
    {"t":587.3,"y":63.58},
    {"t":590.2,"y":63.54},
    {"t":593.2,"y":63.35},{"t":593.2,"y":62.61},{"t":593.2,"y":62.38},
    {"t":596.1,"y":63.31},
    {"t":599.0,"y":63.64},
    {"t":602.0,"y":63.54},
    {"t":605.0,"y":63.54},
    {"t":608.1,"y":63.36},
    {"t":611.0,"y":63.52},
    {"t":612.2,"y":63.21},{"t":612.2,"y":62.05},
    {"t":614.0,"y":63.37},
    {"t":616.9,"y":63.49},
    {"t":618.2,"y":62.28},
    {"t":620.0,"y":63.63},
    {"t":623.0,"y":63.49},
    {"t":624.1,"y":63.38},
    {"t":626.0,"y":63.49},
    {"t":629.0,"y":63.52},
    {"t":630.3,"y":62.03},
    {"t":632.1,"y":63.44},
    {"t":635.0,"y":63.45},
    {"t":636.5,"y":62.03},
    {"t":638.0,"y":63.41},
    {"t":641.0,"y":64.1},
    {"t":644.0,"y":63.38},
    {"t":647.0,"y":63.32},
    {"t":649.8,"y":63.41},
    {"t":652.9,"y":63.7},
    {"t":655.8,"y":63.31},
    {"t":658.8,"y":64.2},
    {"t":661.7,"y":63.54},
    {"t":664.8,"y":63.54},
    {"t":666.9,"y":62.22},
    {"t":667.9,"y":63.37},
    {"t":670.8,"y":63.34},
    {"t":672.8,"y":62.07},
    {"t":673.8,"y":63.98},
    {"t":676.7,"y":63.6},
    {"t":679.8,"y":64.73},
    {"t":682.8,"y":63.61},
    {"t":685.7,"y":63.37},
    {"t":688.8,"y":63.34},
    {"t":691.6,"y":63.08},{"t":691.6,"y":62.14},
    {"t":694.8,"y":63.4},
    {"t":697.8,"y":63.46},
    {"t":700.6,"y":65.18},
    {"t":703.5,"y":63.1},
    {"t":706.5,"y":63.6},
    {"t":709.6,"y":63.54},
    {"t":712.5,"y":63.79},
    {"t":715.5,"y":63.63},{"t":715.5,"y":62.15},
    {"t":718.8,"y":63.21},
    {"t":722.0,"y":68.05},
    {"t":725.4,"y":63.76},
    {"t":728.5,"y":63.55},{"t":728.5,"y":62.18},
    {"t":731.5,"y":63.45},
    {"t":734.6,"y":63.4},{"t":734.6,"y":62.08},
    {"t":737.5,"y":63.99},
    {"t":740.5,"y":63.19},{"t":740.5,"y":62.09},
    {"t":743.4,"y":63.52},
    {"t":746.5,"y":63.35},{"t":746.5,"y":63.09},{"t":746.5,"y":62.06},
    {"t":749.4,"y":63.78},
    {"t":752.5,"y":64.18},
    {"t":755.4,"y":63.16},
    {"t":758.3,"y":63.4},
    {"t":761.3,"y":63.61},
    {"t":764.3,"y":63.46},
    {"t":767.3,"y":63.67},{"t":767.3,"y":62.03},
    {"t":770.2,"y":63.27},
    {"t":773.2,"y":63.47},
    {"t":776.3,"y":63.44},
    {"t":777.2,"y":62.33},{"t":777.2,"y":62.3},
    {"t":779.2,"y":63.58},
    {"t":782.3,"y":63.32},
    {"t":783.5,"y":62.04},
    {"t":785.3,"y":64.17},
    {"t":786.5,"y":62.16},
    {"t":788.2,"y":63.3},
    {"t":789.4,"y":62.11},
    {"t":791.3,"y":63.44},
    {"t":794.2,"y":63.35},
    {"t":795.2,"y":62.26},{"t":795.2,"y":62.13},
    {"t":797.2,"y":63.66},
    {"t":800.3,"y":64.46},
    {"t":801.5,"y":62.35},
    {"t":803.2,"y":63.13},
    {"t":806.2,"y":63.37},
    {"t":807.6,"y":62.03},
    {"t":809.1,"y":63.62},
    {"t":810.2,"y":62.11},{"t":810.2,"y":62.07},
    {"t":812.1,"y":63.43},
    {"t":813.8,"y":62.04},
    {"t":815.0,"y":63.21},
    {"t":818.0,"y":64.23},
    {"t":819.8,"y":62.8},
    {"t":821.1,"y":63.73},
    {"t":824.0,"y":63.4},
    {"t":825.8,"y":62.06},
    {"t":827.1,"y":63.5},
    {"t":830.0,"y":64.2},
    {"t":833.0,"y":63.29},
    {"t":836.1,"y":63.3},
    {"t":838.1,"y":62.05},
    {"t":839.0,"y":63.65},
    {"t":842.0,"y":63.43},
    {"t":844.9,"y":63.68},
    {"t":847.9,"y":63.14},
    {"t":850.2,"y":62.95},{"t":850.2,"y":62.11},
    {"t":851.0,"y":63.06},
    {"t":854.0,"y":63.25},
    {"t":857.0,"y":63.7},
    {"t":860.0,"y":63.31},
    {"t":862.1,"y":62.05},
    {"t":862.8,"y":63.19},
    {"t":865.7,"y":63.12},
    {"t":868.8,"y":63.63},
    {"t":871.8,"y":63.32},
    {"t":874.6,"y":63.32},{"t":874.6,"y":62.17},{"t":874.6,"y":62.13},
    {"t":877.6,"y":63.33},
    {"t":880.6,"y":63.06},{"t":880.6,"y":62.08},
    {"t":883.7,"y":63.17},
    {"t":886.6,"y":63.33},{"t":886.6,"y":62.09},
    {"t":889.7,"y":63.4},
    {"t":892.7,"y":63.27},
    {"t":895.7,"y":63.35},
    {"t":898.7,"y":64.36},{"t":898.7,"y":62.3},
    {"t":901.6,"y":63.34},
    {"t":904.7,"y":63.43},{"t":904.7,"y":62.02},
    {"t":907.7,"y":63.6},
    {"t":910.8,"y":63.23},
    {"t":913.4,"y":63.32},
    {"t":916.5,"y":63.32},
    {"t":919.5,"y":63.49},
    {"t":922.4,"y":64.89},
    {"t":923.1,"y":62.44},
    {"t":925.5,"y":63.33},
    {"t":929.0,"y":63.57},{"t":929.0,"y":63.23},
    {"t":932.1,"y":63.23},
    {"t":935.0,"y":63.47},
    {"t":935.6,"y":62.04},
    {"t":938.0,"y":63.35},
    {"t":941.1,"y":63.35},
    {"t":944.0,"y":63.13},
    {"t":947.0,"y":63.87},
    {"t":947.9,"y":62.04},
    {"t":950.1,"y":63.23},
    {"t":953.0,"y":63.53},
    {"t":954.0,"y":63.63},{"t":954.0,"y":62.54},
    {"t":956.1,"y":63.44},
    {"t":959.1,"y":65.13},
    {"t":962.0,"y":63.98},
    {"t":965.1,"y":63.24},
    {"t":967.9,"y":63.44},
    {"t":970.9,"y":63.61},
    {"t":972.4,"y":62.14},{"t":972.4,"y":62.07},
    {"t":973.8,"y":63.48},
    {"t":976.9,"y":63.01},
    {"t":978.4,"y":62.79},{"t":978.4,"y":62.33},
    {"t":979.9,"y":64.62},
    {"t":983.0,"y":63.7},
    {"t":985.9,"y":63.54},
    {"t":988.9,"y":63.72},
    {"t":990.8,"y":62.05},
    {"t":992.0,"y":63.14},
    {"t":994.9,"y":64.36},
    {"t":996.7,"y":62.02},
    {"t":998.0,"y":63.4},
    {"t":999.1,"y":62.11}
  ]},
  "layer": [
    {
      "transform": [{"filter": "datum.y > 62 || datum.y < 60"}],
      "mark": {"type": "rule", "clip": true, "color": "#1f77b4", "opacity": 0.3, "strokeWidth": 7, "strokeCap": "butt"},
      "encoding": {
        "x": {"field": "t", "type": "quantitative",
          "scale": {"domain": [0, 1000], "nice": false, "zero": false},
          "axis": {"values": [0, 200, 400, 600, 800, 1000], "format": "d", "title": "Time [s] - 14825s", "grid": true,
            "gridOpacity": {"condition": {"test": "datum.value == 0 || datum.value == 1000", "value": 0}, "value": 0.7}}},
        "y": {"aggregate": "max", "field": "y", "type": "quantitative",
          "scale": {"domain": [55, 70], "nice": false, "zero": false},
          "axis": {"values": [56, 58, 60, 62, 64, 66, 68, 70], "title": "Latency [ms]", "grid": true,
            "gridOpacity": {"condition": {"test": "datum.value == 70", "value": 0}, "value": 0.7}}},
        "y2": {"datum": 61.95}
      }
    },
    {
      "mark": {"type": "point", "filled": true, "clip": true, "size": 55, "opacity": 1},
      "encoding": {
        "x": {"field": "t", "type": "quantitative",
          "axis": {"orient": "top", "title": "© FreshFlash4096", "labels": false, "ticks": false, "domain": false, "grid": false,
            "titleColor": "#d0d0d0", "titleFontSize": 33.3, "titleFontWeight": "normal", "titleAlign": "left", "titleAnchor": "start",
            "titleBaseline": "alphabetic", "titleX": -146, "titleY": 1620}},
        "y": {"field": "y", "type": "quantitative",
          "axis": {"values": [56, 58, 60, 62, 64, 66, 68, 70], "title": "Latency [ms]", "grid": true,
            "gridOpacity": {"condition": {"test": "datum.value == 70", "value": 0}, "value": 0.7}}},
        "color": {"datum": "870 EVO 4TB", "type": "nominal",
          "scale": {"range": ["#1f77b4"]},
          "legend": {"title": null, "orient": "top-right", "offset": 18, "padding": 17,
            "symbolType": "circle", "symbolSize": 490, "symbolStrokeWidth": 0, "symbolOffset": 21,
            "labelFont": "DejaVu Sans", "labelFontSize": 41.7, "labelColor": "black", "labelOffset": 53, "labelLimit": 600}}
      }
    }
  ],
  "resolve": {"axis": {"x": "independent"}}
}
